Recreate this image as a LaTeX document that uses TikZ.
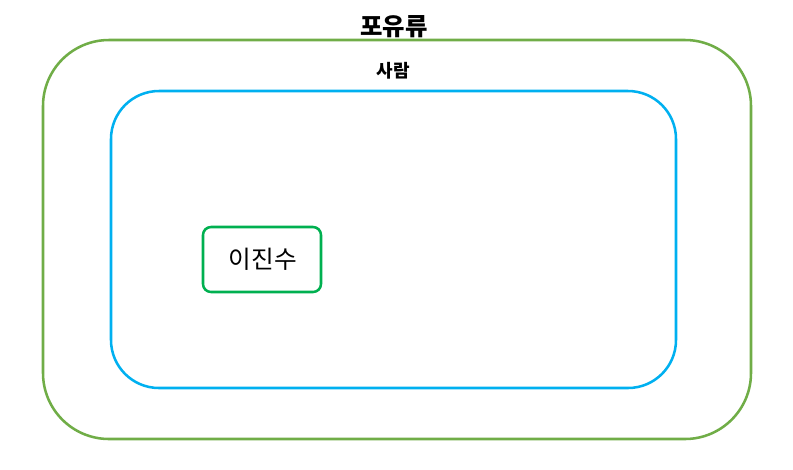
\documentclass[tikz,border=0pt]{standalone}
\usepackage{fontspec}
\newfontfamily\cjk{Noto Sans CJK KR}
\definecolor{outerg}{HTML}{70AD47}
\definecolor{innerb}{HTML}{00B0F0}
\definecolor{smallg}{HTML}{00B050}
\begin{document}
\begin{tikzpicture}[x=0.75pt,y=-0.75pt,
  frame/.style={draw, line width=1.9pt},
  lbl/.style={inner sep=0pt, font=\cjk}]
\useasboundingbox (0,0) rectangle (793,469);
\draw[frame, outerg, rounded corners=66*0.75pt] (43,40) rectangle (751,439);
\node[lbl, font=\cjk\bfseries\fontsize{18.3pt}{20pt}\selectfont] (title) at (394,27) {포유류};
\draw[frame, innerb, rounded corners=48*0.75pt] (111,91) rectangle (676,388);
\node[lbl, font=\cjk\bfseries\fontsize{13.5pt}{15pt}\selectfont] (person) at (393,71) {사람};
\draw[frame, smallg, rounded corners=8*0.75pt] (203,227) rectangle (321,292);
\node[lbl, font=\cjk\fontsize{18.5pt}{20pt}\selectfont] (name) at (263,259) {이진수};
\end{tikzpicture}
\end{document}
